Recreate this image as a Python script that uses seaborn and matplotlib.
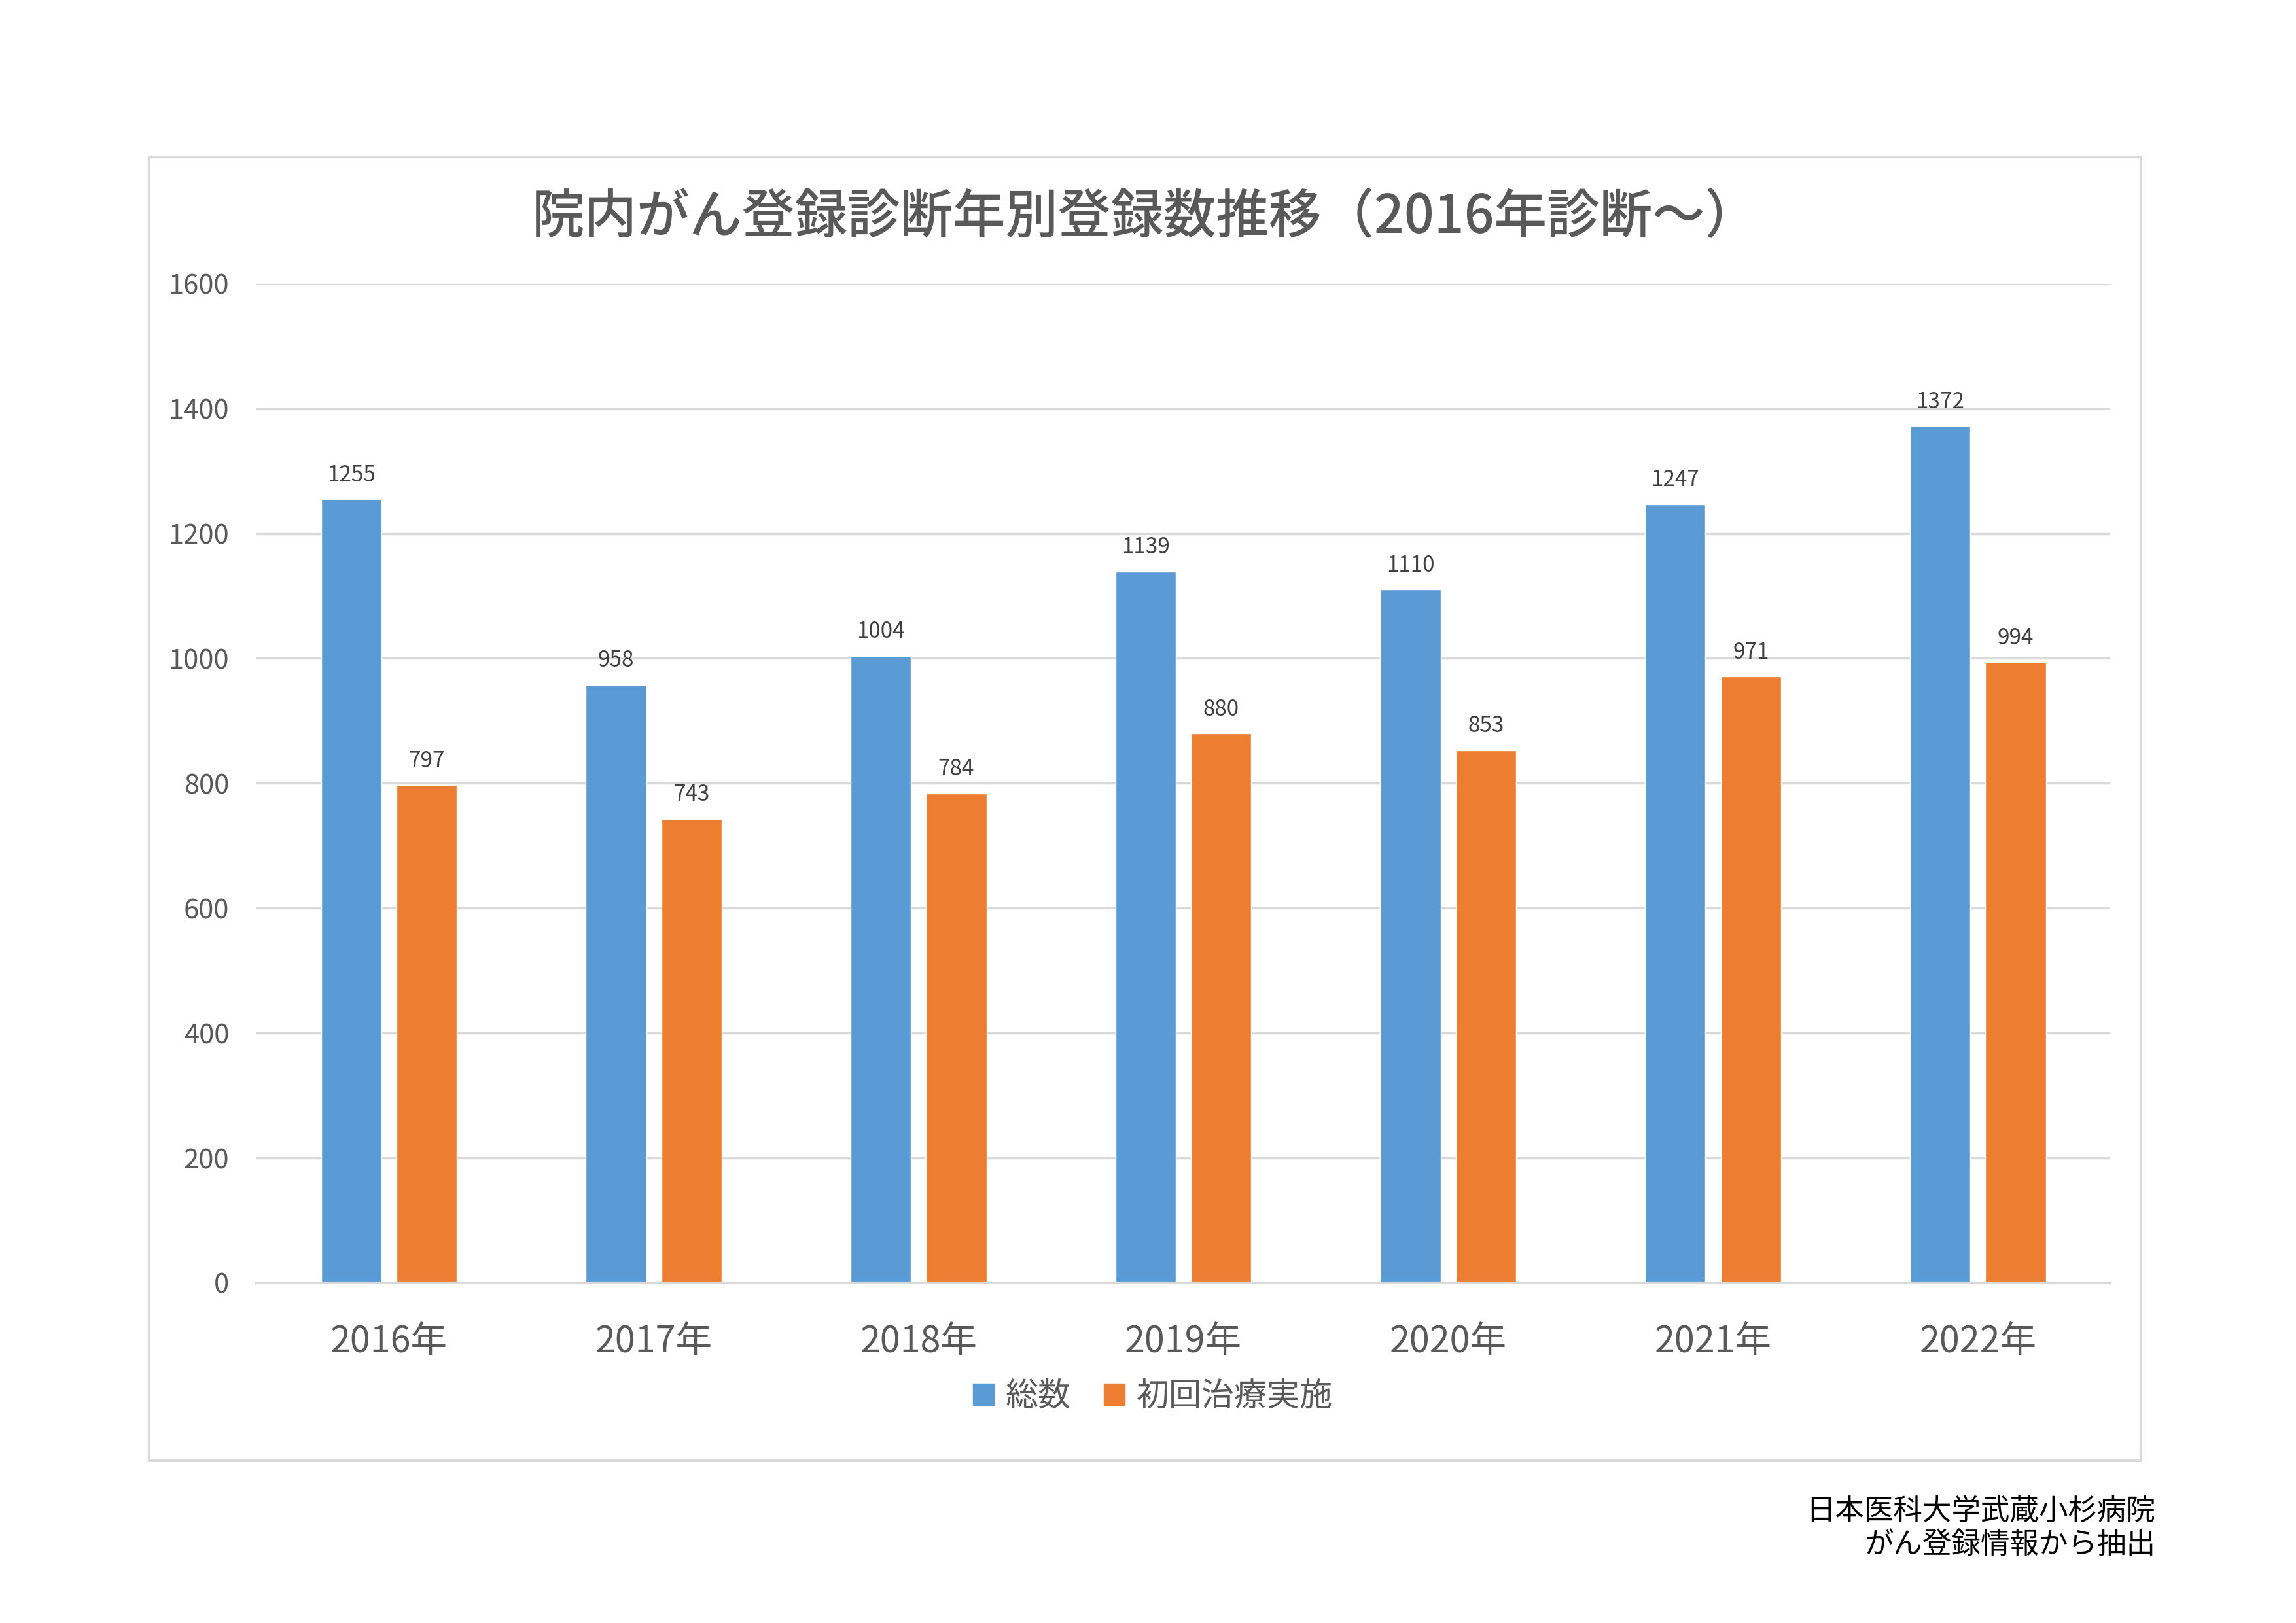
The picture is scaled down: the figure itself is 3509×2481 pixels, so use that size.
import pandas as pd
import seaborn as sns
import matplotlib.pyplot as plt
from matplotlib.patches import Rectangle

# data
years = ['2016年', '2017年', '2018年', '2019年', '2020年', '2021年', '2022年']
total = [1255, 958, 1004, 1139, 1110, 1247, 1372]
first_treatment = [797, 743, 784, 880, 853, 971, 994]
series_names = ['総数', '初回治療実施']
colors = ['#5B9BD5', '#ED7D31']
y_ticks = [0, 200, 400, 600, 800, 1000, 1200, 1400, 1600]

df = pd.DataFrame({
    '年': years * 2,
    '件数': total + first_treatment,
    '系列': [series_names[0]] * len(years) + [series_names[1]] * len(years),
})

sns.set_style('white')
plt.rcParams['font.family'] = ['Noto Sans CJK JP', 'DejaVu Sans']

text_gray = '#595959'
grid_gray = '#D9D9D9'

fig = plt.figure(figsize=(35.09, 24.81), dpi=100)
ax = fig.add_axes([0.1117, 0.2096, 0.8074, 0.6156])

sns.barplot(data=df, x='年', y='件数', hue='系列', palette=colors,
            width=0.57, gap=0.2, ax=ax, legend=False, saturation=1)

for cont in ax.containers:
    ax.bar_label(cont, padding=14, fontsize=24, color='#404040')

ax.set_ylim(0, 1600)
ax.set_xlim(-0.5, len(years) - 0.5)
ax.set_yticks(y_ticks)
ax.yaxis.grid(True, color=grid_gray, linewidth=2.5)
ax.set_axisbelow(True)
for s in ['top', 'right', 'left']:
    ax.spines[s].set_visible(False)
ax.spines['bottom'].set_color(grid_gray)
ax.spines['bottom'].set_linewidth(3)
ax.tick_params(axis='y', labelsize=30, labelcolor=text_gray, length=0, pad=30)
ax.tick_params(axis='x', labelsize=40, labelcolor=text_gray, length=0, pad=44)
ax.set_xlabel('')
ax.set_ylabel('')

# outer chart frame
fig.patches.append(Rectangle((228 / 3509, 1 - 2233 / 2481), (3272 - 228) / 3509,
                             (2233 - 240) / 2481, transform=fig.transFigure,
                             fill=False, edgecolor=grid_gray, linewidth=3))

fig.text(0.4988, 1 - 333 / 2481, '院内がん登録診断年別登録数推移（2016年診断～）',
         ha='center', va='center', fontsize=58, color=text_gray, fontweight='medium')

handles = [Rectangle((0, 0), 1, 1, color=c) for c in colors]
fig.legend(handles, series_names, loc='center', bbox_to_anchor=(0.502, 1 - 2135 / 2481),
           ncol=2, frameon=False, fontsize=36, labelcolor=text_gray,
           handlelength=0.65, handleheight=0.65, handletextpad=0.35, columnspacing=1.0)

fig.text(3294 / 3509, 1 - 2310 / 2481, '日本医科大学武蔵小杉病院', ha='right', va='center',
         fontsize=32, color='black')
fig.text(3294 / 3509, 1 - 2361 / 2481, 'がん登録情報から抽出', ha='right', va='center',
         fontsize=32, color='black')

fig.savefig('out.png', dpi=100, facecolor='white')
